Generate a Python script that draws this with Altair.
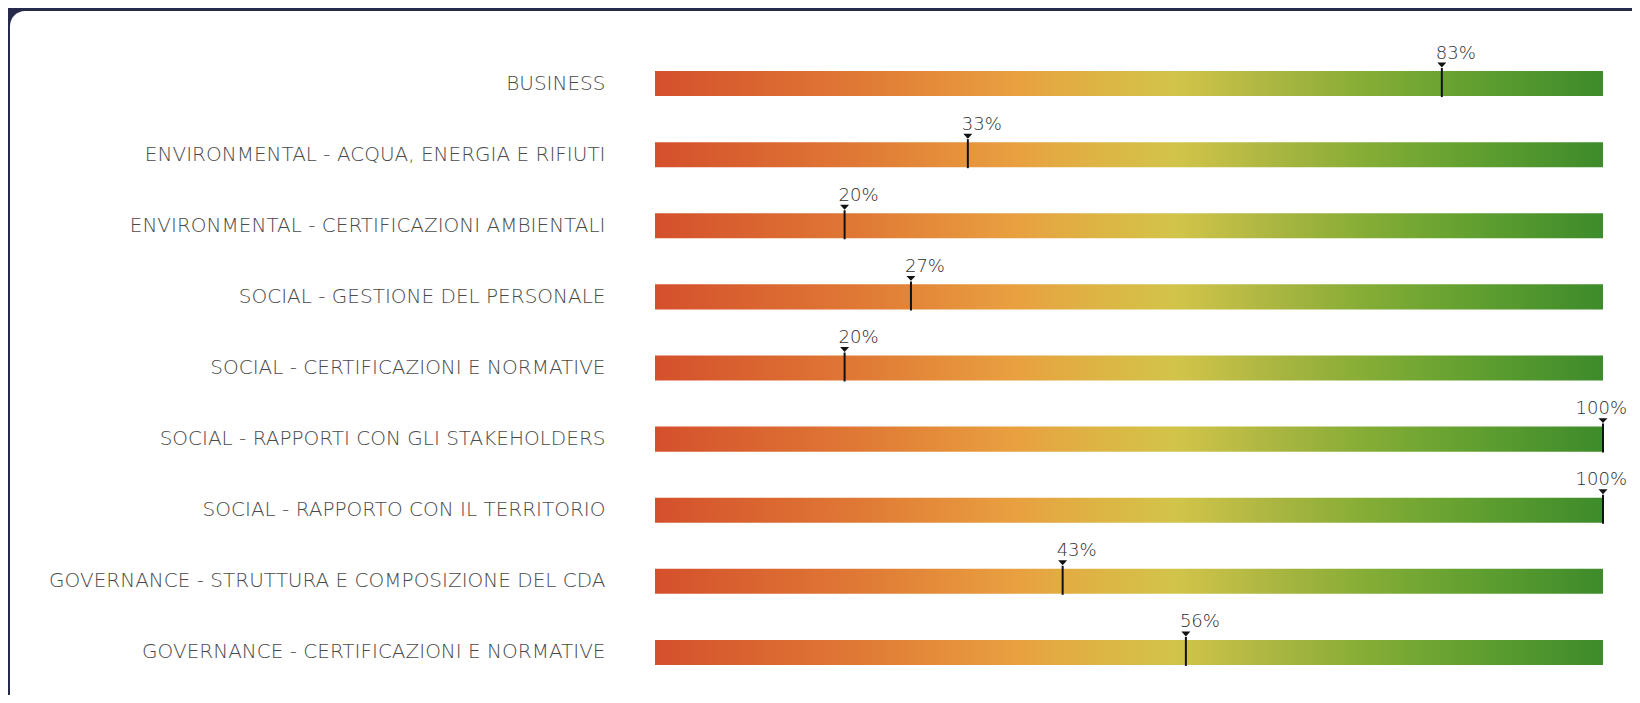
import altair as alt
import pandas as pd

categories = [
    "BUSINESS",
    "ENVIRONMENTAL - ACQUA, ENERGIA E RIFIUTI",
    "ENVIRONMENTAL - CERTIFICAZIONI AMBIENTALI",
    "SOCIAL - GESTIONE DEL PERSONALE",
    "SOCIAL - CERTIFICAZIONI E NORMATIVE",
    "SOCIAL - RAPPORTI CON GLI STAKEHOLDERS",
    "SOCIAL - RAPPORTO CON IL TERRITORIO",
    "GOVERNANCE - STRUTTURA E COMPOSIZIONE DEL CDA",
    "GOVERNANCE - CERTIFICAZIONI E NORMATIVE",
]
values = [83, 33, 20, 27, 20, 100, 100, 43, 56]
labels = [f"{v}%" for v in values]

df = pd.DataFrame({"category": categories, "value": values, "label": labels})

gradient = alt.Gradient(
    gradient="linear",
    x1=0, x2=1, y1=0, y2=0,
    stops=[
        alt.GradientStop(color="#d4502c", offset=0.0),
        alt.GradientStop(color="#e07a35", offset=0.22),
        alt.GradientStop(color="#e9a040", offset=0.38),
        alt.GradientStop(color="#ddb545", offset=0.47),
        alt.GradientStop(color="#d2c44a", offset=0.55),
        alt.GradientStop(color="#a8b540", offset=0.66),
        alt.GradientStop(color="#85ad36", offset=0.75),
        alt.GradientStop(color="#62a030", offset=0.86),
        alt.GradientStop(color="#3d8b2b", offset=1.0),
    ],
)

x_scale = alt.Scale(domain=[0, 100], nice=False, zero=True)
y_enc = alt.Y(
    "category:N",
    sort=categories,
    title=None,
    scale=alt.Scale(paddingInner=0.648, paddingOuter=0.324),
    axis=alt.Axis(
        labelFont="DejaVu Sans",
        labelFontSize=20,
        labelFontWeight=300,
        labelColor="#4a4a4a",
        labelPadding=50,
        ticks=False,
        domain=False,
        grid=False,
        labelLimit=0,
        zindex=1,
    ),
)

card = alt.Chart(pd.DataFrame({"a": [0]})).mark_rect(
    color="white", cornerRadius=15
).encode(
    x=alt.value(-645), x2=alt.value(1000), y=alt.value(-37), y2=alt.value(700)
)

bars = alt.Chart(df).mark_bar(color=gradient).encode(
    y=y_enc,
    x=alt.X(datum=0, scale=x_scale, axis=None),
    x2=alt.X2(datum=100),
)

ticks = alt.Chart(df).mark_tick(
    color="#111111", thickness=2, size=29, yOffset=-1, opacity=1
).encode(
    x=alt.X("value:Q", scale=x_scale, axis=None),
    y=y_enc,
)

tri = alt.Chart(df).mark_point(
    shape="M-1,-0.55L1,-0.55L0,0.55Z",
    size=81,
    filled=True,
    color="#111111",
    opacity=1,
    yOffset=-18.5,
).encode(
    x=alt.X("value:Q", scale=x_scale, axis=None),
    y=y_enc,
)

text_main = alt.Chart(df).transform_filter("datum.value < 100").mark_text(
    font="DejaVu Sans", fontSize=18, fontWeight=300, color="#2e2e2e",
    align="center", baseline="alphabetic", dx=14, dy=-25,
).encode(
    x=alt.X("value:Q", scale=x_scale, axis=None),
    y=y_enc,
    text="label:N",
)

text_full = alt.Chart(df).transform_filter("datum.value >= 100").mark_text(
    font="DejaVu Sans", fontSize=18, fontWeight=300, color="#2e2e2e",
    align="right", baseline="alphabetic", dx=24, dy=-25,
).encode(
    x=alt.X("value:Q", scale=x_scale, axis=None),
    y=y_enc,
    text="label:N",
)

chart = alt.layer(card, bars, ticks, tri, text_main, text_full).properties(
    width=948,
    height=640,
    padding={"left": 647, "top": 40, "right": 29, "bottom": 7},
    autosize=alt.AutoSizeParams(type="none"),
    background="#272b4b",
).configure_view(stroke=None)

chart.save("out.html", embed_options={"renderer": "svg", "actions": False})
